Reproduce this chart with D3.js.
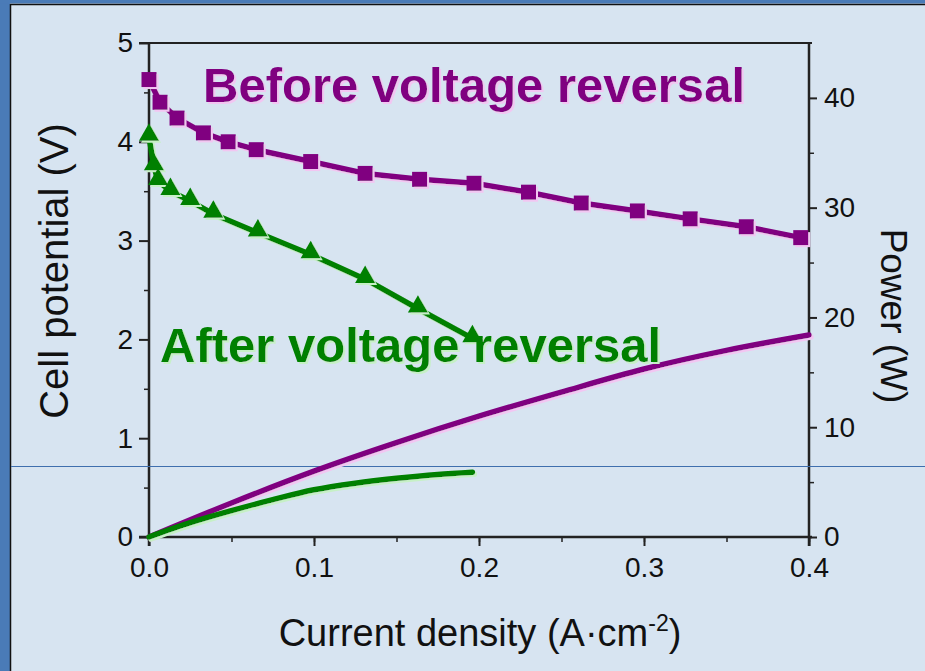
<!DOCTYPE html>
<html><head><meta charset="utf-8">
<script src="https://cdn.jsdelivr.net/npm/d3@7"></script>
<style>html,body{margin:0;padding:0;background:#d7e4f1;}svg{display:block;}</style>
</head><body>
<svg id="c" width="925" height="671"></svg>
<script>
// ---- data ----
const beforeCurrent = [0, 0.0067, 0.017, 0.033, 0.048, 0.065, 0.098, 0.131, 0.164, 0.197, 0.230, 0.262, 0.296, 0.328, 0.362, 0.395];
const beforeVoltage = [4.63, 4.40, 4.24, 4.09, 4.00, 3.92, 3.80, 3.68, 3.62, 3.58, 3.49, 3.38, 3.30, 3.22, 3.14, 3.03];
const afterCurrent = [0, 0.003, 0.0055, 0.013, 0.025, 0.039, 0.066, 0.098, 0.131, 0.163, 0.196];
const afterVoltage = [4.05, 3.75, 3.60, 3.50, 3.40, 3.27, 3.08, 2.86, 2.61, 2.31, 2.01];
const beforePowerCurrent = [0, 0.05, 0.1, 0.15, 0.2, 0.25, 0.3, 0.35, 0.4];
const beforePower = [0, 3.1, 6.0, 8.6, 11.0, 13.2, 15.3, 17.0, 18.4];
const afterPowerCurrent = [0, 0.025, 0.05, 0.075, 0.1, 0.125, 0.15, 0.175, 0.196];
const afterPower = [0, 1.3, 2.4, 3.4, 4.3, 4.9, 5.35, 5.7, 5.9];
const xTicks = [0, 0.1, 0.2, 0.3, 0.4];
const yLeftTicks = [0, 1, 2, 3, 4, 5];
const yRightTicks = [0, 10, 20, 30, 40];

const svg = d3.select("#c");
const W = 925, H = 671;
const purple = "#800080", green = "#008000";

// shadow filters
const defs = svg.append("defs");
function shadowFilter(id, col){
  const f = defs.append("filter").attr("id",id).attr("x","-10%").attr("y","-10%").attr("width","120%").attr("height","130%");
  f.append("feOffset").attr("in","SourceAlpha").attr("dx",1.5).attr("dy",2).attr("result","off");
  f.append("feFlood").attr("flood-color",col).attr("result","fl");
  f.append("feComposite").attr("in","fl").attr("in2","off").attr("operator","in").attr("result","sh");
  const m = f.append("feMerge");
  m.append("feMergeNode").attr("in","sh");
  m.append("feMergeNode").attr("in","SourceGraphic");
}
shadowFilter("shP","#f2c6f2");
shadowFilter("shG","#c6f0c6");

// frame
svg.append("rect").attr("x",0).attr("y",0).attr("width",W).attr("height",H).attr("fill","#d7e4f1");
svg.append("rect").attr("x",0).attr("y",0).attr("width",10).attr("height",H).attr("fill","#4a7bb7");
svg.append("rect").attr("x",0).attr("y",0).attr("width",W).attr("height",3.5).attr("fill","#4a7bb7");
svg.append("line").attr("x1",10.5).attr("x2",10.5).attr("y1",4).attr("y2",H).attr("stroke","#111").attr("stroke-width",1.5);
svg.append("line").attr("x1",10).attr("x2",W).attr("y1",4.5).attr("y2",4.5).attr("stroke","#111").attr("stroke-width",1.5);

const L = 149, R = 809, T = 43, B = 537;
const x = d3.scaleLinear().domain([0, 0.4]).range([L, R]);
const y = d3.scaleLinear().domain([0, 5]).range([B, T]);
const y2 = d3.scaleLinear().domain([0, 45]).range([B, T]);

const axisColor = "#222";
const font = "'Liberation Sans', Arial, sans-serif";

// axes
const gx = svg.append("g").attr("transform",`translate(0,${B})`);
gx.call(d3.axisBottom(x).tickValues(d3.range(0, 0.4001, 0.05)).tickSize(5).tickFormat(""));
gx.selectAll(".tick line").attr("stroke",axisColor).attr("stroke-width",1.5);
const gx2 = svg.append("g").attr("transform",`translate(0,${B})`);
gx2.call(d3.axisBottom(x).tickValues(xTicks).tickSize(9).tickPadding(11).tickFormat(d3.format(".1f")));
gx2.selectAll(".tick line").attr("stroke",axisColor).attr("stroke-width",2);
gx2.selectAll(".tick text").attr("font-family",font).attr("font-size",28).attr("fill","#111").attr("dy","0.71em");
svg.selectAll(".domain").remove();

const gy = svg.append("g").attr("transform",`translate(${L},0)`);
gy.call(d3.axisLeft(y).tickValues(d3.range(0.5, 5, 1)).tickSize(5).tickFormat(""));
gy.selectAll(".tick line").attr("stroke",axisColor).attr("stroke-width",1.5);
const gy2 = svg.append("g").attr("transform",`translate(${L},0)`);
gy2.call(d3.axisLeft(y).tickValues(yLeftTicks).tickSize(10).tickPadding(6).tickFormat(d3.format("d")));
gy2.selectAll(".tick line").attr("stroke",axisColor).attr("stroke-width",2);
gy2.selectAll(".tick text").attr("font-family",font).attr("font-size",28).attr("fill","#111");

const gr = svg.append("g").attr("transform",`translate(${R},0)`);
gr.call(d3.axisRight(y2).tickValues(d3.range(5, 45, 10)).tickSize(5).tickFormat(""));
gr.selectAll(".tick line").attr("stroke",axisColor).attr("stroke-width",1.5);
const gr2 = svg.append("g").attr("transform",`translate(${R},0)`);
gr2.call(d3.axisRight(y2).tickValues(yRightTicks).tickSize(8).tickPadding(7).tickFormat(d3.format("d")));
gr2.selectAll(".tick line").attr("stroke",axisColor).attr("stroke-width",2);
gr2.selectAll(".tick text").attr("font-family",font).attr("font-size",28).attr("fill","#111");
svg.selectAll(".domain").remove();

// plot frame lines
svg.append("line").attr("x1",L-10).attr("x2",R+3).attr("y1",T).attr("y2",T).attr("stroke",axisColor).attr("stroke-width",2);
svg.append("line").attr("x1",L-10).attr("x2",R+3).attr("y1",B).attr("y2",B).attr("stroke",axisColor).attr("stroke-width",2.5);
svg.append("line").attr("x1",L).attr("x2",L).attr("y1",T).attr("y2",B+9).attr("stroke",axisColor).attr("stroke-width",2.5);
svg.append("line").attr("x1",R).attr("x2",R).attr("y1",T).attr("y2",B+9).attr("stroke",axisColor).attr("stroke-width",2.5);

// horizontal stray line
svg.append("line").attr("x1",11).attr("x2",W).attr("y1",466.5).attr("y2",466.5).attr("stroke","#3f6fae").attr("stroke-width",1);

// series
const vBefore = beforeCurrent.map((c,i)=>[c, beforeVoltage[i]]);
const vAfter = afterCurrent.map((c,i)=>[c, afterVoltage[i]]);
const pBefore = beforePowerCurrent.map((c,i)=>[c, beforePower[i]]);
const pAfter = afterPowerCurrent.map((c,i)=>[c, afterPower[i]]);

const lineV = d3.line().x(d=>x(d[0])).y(d=>y(d[1]));
const lineP = d3.line().x(d=>x(d[0])).y(d=>y2(d[1])).curve(d3.curveMonotoneX);

function drawLine(data, gen, color, filt){
  svg.append("path").datum(data).attr("d",gen).attr("fill","none").attr("stroke",color)
    .attr("stroke-width",5.5).attr("stroke-linejoin","round").attr("stroke-linecap","round")
    .attr("filter",`url(#${filt})`);
}
drawLine(pBefore, lineP, purple, "shP");
drawLine(pAfter, lineP, green, "shG");
drawLine(vBefore, lineV, purple, "shP");
drawLine(vAfter, lineV, green, "shG");

svg.append("g").attr("filter","url(#shP)").selectAll("rect").data(vBefore).join("rect")
  .attr("x",d=>x(d[0])-7.5).attr("y",d=>y(d[1])-7.5).attr("width",15).attr("height",15).attr("fill",purple);
const tri = d3.symbol().type(d3.symbolTriangle).size(175);
svg.append("g").attr("filter","url(#shG)").selectAll("path").data(vAfter).join("path")
  .attr("transform",d=>`translate(${x(d[0])},${y(d[1])-2})`).attr("d",tri).attr("fill",green);

// annotations
function label(txt, px, py, color, filt){
  svg.append("text").attr("x",px).attr("y",py).text(txt).attr("font-family",font).attr("font-weight","bold")
    .attr("font-size",49).attr("fill",color).attr("filter",`url(#${filt})`);
}
label("Before voltage reversal", 203, 102, purple, "shP");
label("After voltage reversal", 160, 362, green, "shG");

// axis titles
svg.append("text").attr("transform","translate(68,271) rotate(-90)").attr("text-anchor","middle")
  .attr("font-family",font).attr("font-size",40).attr("fill","#111").text("Cell potential (V)");
svg.append("text").attr("transform","translate(881,316) rotate(90)").attr("text-anchor","middle")
  .attr("font-family",font).attr("font-size",37).attr("fill","#111").text("Power (W)");
const xt = svg.append("text").attr("x",480).attr("y",646).attr("text-anchor","middle")
  .attr("font-family",font).attr("font-size",38).attr("fill","#111");
xt.append("tspan").text("Current density (A\u00b7cm");
xt.append("tspan").attr("dy",-15).attr("font-size",23).text("-2");
xt.append("tspan").attr("dy",15).text(")");
</script>
</body></html>
